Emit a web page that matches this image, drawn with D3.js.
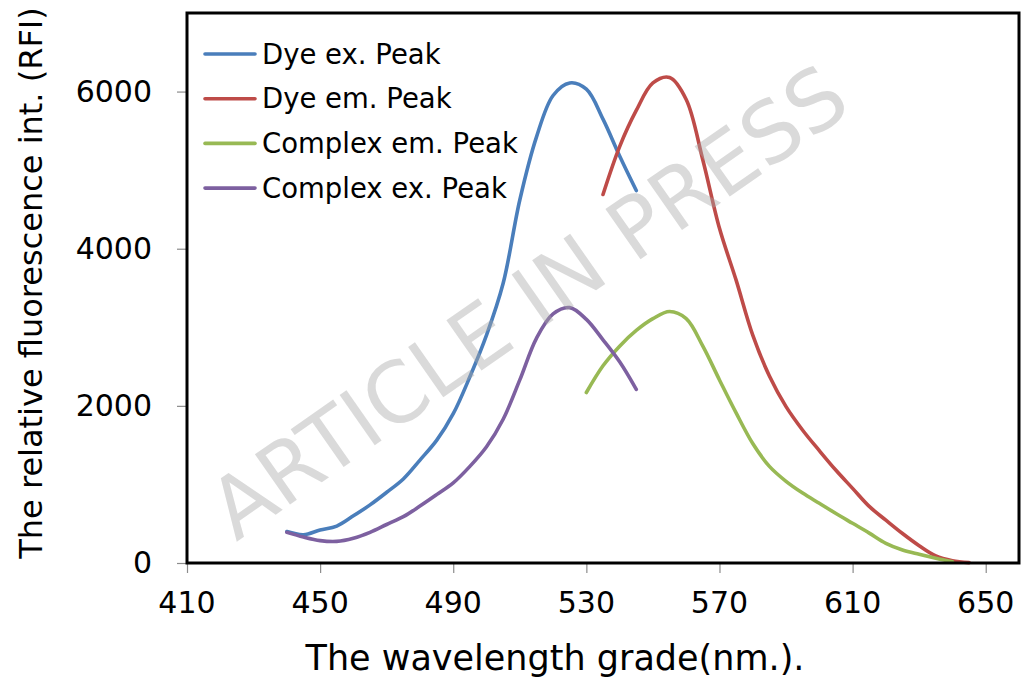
<!DOCTYPE html>
<html>
<head>
<meta charset="utf-8">
<script src="https://cdn.jsdelivr.net/npm/d3@7"></script>
<style>
  body { margin: 0; background: #fff; }
  svg text { font-family: "DejaVu Sans", sans-serif; fill: #000; }
</style>
</head>
<body>
<div id="chart"></div>
<script>
// wavelengths (nm) for each series
const dyeExNm = [440, 445, 450, 455, 460, 465, 470, 475, 480, 485, 490, 495, 500, 505, 510, 515, 520, 525, 530, 535, 540, 545];
const dyeExVal = [400, 360, 420, 470, 600, 740, 900, 1070, 1310, 1560, 1900, 2370, 2900, 3560, 4620, 5420, 5950, 6110, 6030, 5650, 5180, 4740];

const dyeEmNm = [535, 540, 545, 550, 555, 560, 565, 570, 575, 580, 585, 590, 595, 600, 605, 610, 615, 620, 625, 630, 635, 640, 645];
const dyeEmVal = [4690, 5300, 5760, 6110, 6180, 5900, 5130, 4260, 3600, 2900, 2380, 1990, 1690, 1430, 1180, 950, 720, 545, 375, 220, 90, 30, 5];

const cxEmNm = [530, 535, 540, 545, 550, 555, 560, 565, 570, 575, 580, 585, 590, 595, 600, 605, 610, 615, 620, 625, 630, 635, 640];
const cxEmVal = [2170, 2510, 2760, 2960, 3110, 3200, 3110, 2760, 2330, 1910, 1520, 1230, 1040, 890, 760, 630, 505, 380, 250, 165, 110, 60, 15];

const cxExNm = [440, 445, 450, 455, 460, 465, 470, 475, 480, 485, 490, 495, 500, 505, 510, 515, 520, 525, 530, 535, 540, 545];
const cxExVal = [390, 330, 285, 275, 315, 390, 490, 590, 725, 870, 1020, 1230, 1480, 1830, 2330, 2860, 3170, 3250, 3100, 2840, 2560, 2210];

const seriesNames = ["Dye ex. Peak", "Dye em. Peak", "Complex em. Peak", "Complex ex. Peak"];
const seriesColors = ["#4a7ebb", "#be4b48", "#98b954", "#7d60a0"];

const xTicks = [410, 450, 490, 530, 570, 610, 650];
const yTicks = [0, 2000, 4000, 6000];

const series = [
  { name: seriesNames[0], nm: dyeExNm, val: dyeExVal },
  { name: seriesNames[1], nm: dyeEmNm, val: dyeEmVal },
  { name: seriesNames[2], nm: cxEmNm, val: cxEmVal },
  { name: seriesNames[3], nm: cxExNm, val: cxExVal }
];

const W = 1021, H = 679;
const margin = { top: 13, right: 2, bottom: 116, left: 187 };

const svg = d3.select("#chart").append("svg")
  .attr("width", W)
  .attr("height", H);

const xScale = d3.scaleLinear().domain([410, 660]).range([margin.left, W - margin.right]);
const yScale = d3.scaleLinear().domain([0, 7000]).range([H - margin.bottom, margin.top]);

const cScale = d3.scaleOrdinal().domain(seriesNames).range(seriesColors);

// gray tick marks
const xAxis = d3.axisBottom(xScale).tickValues(xTicks).tickSize(10).tickFormat("");
const yAxis = d3.axisLeft(yScale).tickValues(yTicks).tickSize(10).tickFormat("");

svg.append("g")
  .attr("transform", `translate(0,${yScale(0)})`)
  .call(xAxis)
  .call(g => g.select(".domain").remove())
  .call(g => g.selectAll("line").attr("stroke", "#8c8c8c").attr("stroke-width", 1.2));

svg.append("g")
  .attr("transform", `translate(${xScale(410)},0)`)
  .call(yAxis)
  .call(g => g.select(".domain").remove())
  .call(g => g.selectAll("line").attr("stroke", "#8c8c8c").attr("stroke-width", 1.2));

// tick labels
svg.append("g").selectAll("text")
  .data(xTicks)
  .join("text")
  .attr("x", d => xScale(d))
  .attr("y", yScale(0) + 50)
  .attr("text-anchor", "middle")
  .attr("font-size", 30)
  .text(d => d);

svg.append("g").selectAll("text")
  .data(yTicks)
  .join("text")
  .attr("x", xScale(410) - 35)
  .attr("y", d => yScale(d) + 10)
  .attr("text-anchor", "end")
  .attr("font-size", 30)
  .text(d => d);

// curves
const line = d3.line()
  .x(d => xScale(d[0]))
  .y(d => yScale(d[1]))
  .curve(d3.curveCatmullRom.alpha(0.5));

svg.append("g").selectAll("path")
  .data(series)
  .join("path")
  .attr("fill", "none")
  .attr("stroke", d => cScale(d.name))
  .attr("stroke-width", 3.6)
  .attr("stroke-linecap", "round")
  .attr("d", d => line(d.nm.map((n, i) => [n, d.val[i]])));

// watermark
svg.append("text")
  .attr("transform", "translate(545,326) rotate(-35)")
  .attr("text-anchor", "middle")
  .attr("font-family", "Liberation Sans, sans-serif")
  .attr("font-size", 84)
  .style("fill", "#a8a8a8")
  .attr("fill-opacity", 0.42)
  .text("ARTICLE IN PRESS");

// plot frame
svg.append("rect")
  .attr("x", xScale(410))
  .attr("y", yScale(7000))
  .attr("width", xScale(660) - xScale(410))
  .attr("height", yScale(0) - yScale(7000))
  .attr("fill", "none")
  .attr("stroke", "#000")
  .attr("stroke-width", 3);

// legend
const legend = svg.append("g").attr("transform", "translate(205,54)");
const rows = legend.selectAll("g")
  .data(seriesNames)
  .join("g")
  .attr("transform", (d, i) => `translate(0,${i * 44.7})`);

rows.append("line")
  .attr("x1", 0).attr("x2", 50)
  .attr("stroke", d => cScale(d))
  .attr("stroke-width", 3.6)
  .attr("stroke-linecap", "round");

rows.append("text")
  .attr("x", 57)
  .attr("y", 9.5)
  .attr("font-size", 27.5)
  .text(d => d);

// axis titles
svg.append("text")
  .attr("x", 555)
  .attr("y", 670)
  .attr("text-anchor", "middle")
  .attr("font-size", 35)
  .text("The wavelength grade(nm.).");

svg.append("text")
  .attr("transform", "translate(42,283) rotate(-90)")
  .attr("text-anchor", "middle")
  .attr("font-size", 32)
  .text("The relative fluorescence int. (RFI)");
</script>
</body>
</html>
